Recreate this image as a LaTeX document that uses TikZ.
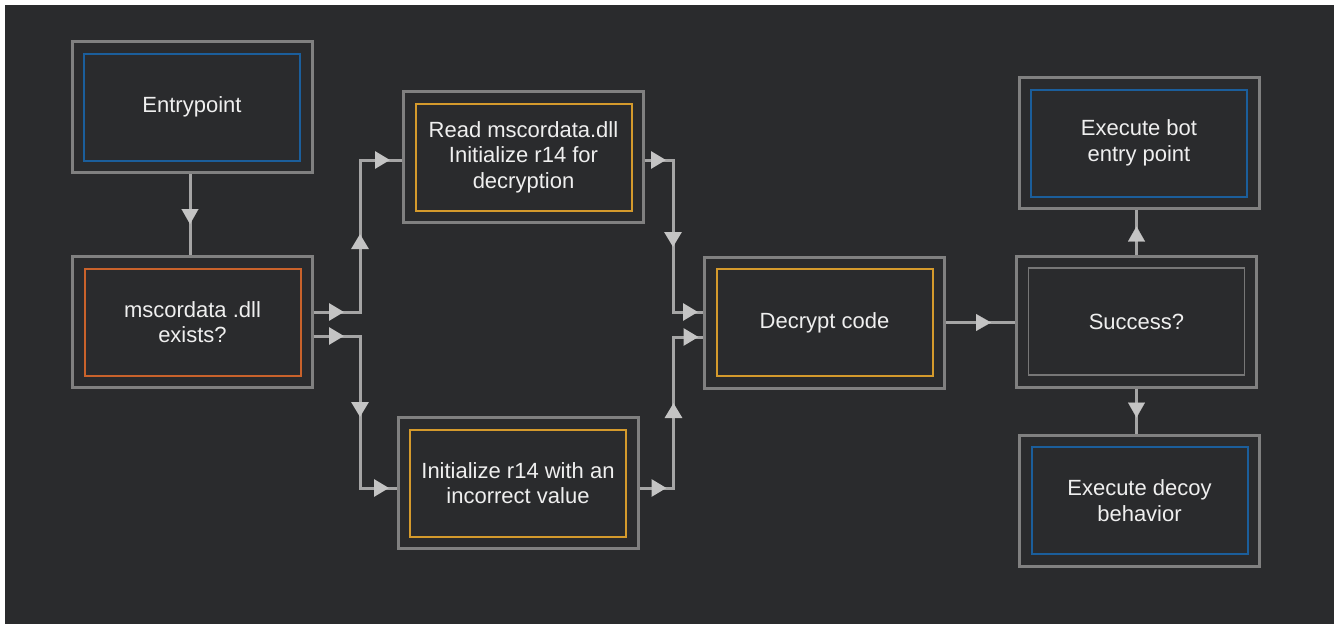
\documentclass[tikz,border=0pt]{standalone}
\usepackage{fontspec}
\setmainfont{Liberation Sans}
\usetikzlibrary{arrows.meta,decorations.markings}
\usetikzlibrary{positioning}

\definecolor{bg}{HTML}{2A2B2D}
\definecolor{boxgray}{HTML}{808080}
\definecolor{linegray}{HTML}{A5A5A5}
\definecolor{tipgray}{HTML}{C4C4C4}
\definecolor{txt}{HTML}{EFEFEF}
\definecolor{ciscoblue}{HTML}{1B5E9B}
\definecolor{rust}{HTML}{C9622B}
\definecolor{amber}{HTML}{D49A2C}
\definecolor{ringgray}{HTML}{777777}

\begin{document}
\begin{tikzpicture}[
	x=1pt, y=-1pt,
	> = {Triangle[length=15pt,width=17pt,fill=tipgray]},
	stage/.style = {draw=boxgray, line width=3pt, fill=bg, text=txt,
		minimum width=240pt, minimum height=131pt, align=center,
		font=\fontsize{22}{25.5}\selectfont,
		path picture={\draw[#1] ([shift={(12pt,-12pt)}]path picture bounding box.north west)
			rectangle ([shift={(-12pt,12pt)}]path picture bounding box.south east);}},
	stage/.default = {draw=ringgray,line width=1.5pt},
	conn/.style = {draw=linegray, line width=3pt, postaction=decorate},
	tips at/.style = {decoration={markings,mark=at position #1 with {\arrow[draw=tipgray,line width=0.1pt]{>}}}}
	]

	% canvas with white strip at top and left
	\useasboundingbox (0,0) rectangle (1334,624);
	\fill[white] (-10,-10) rectangle (1344,634);
	\fill[bg] (5,5) rectangle (1344,634);

	\node[stage={draw=ciscoblue,line width=2pt}] (entry) at (192,107) {Entrypoint};
	\node[stage={draw=rust,line width=2pt}] (msc) at (192.5,322) {mscordata .dll\\exists?};
	\node[stage={draw=amber,line width=2pt}] (read) at (523.5,157) {Read mscordata.dll\\Initialize r14 for\\decryption};
	\node[stage={draw=amber,line width=2pt}] (init) at (518,483) {Initialize r14 with an\\incorrect value};
	\node[stage={draw=amber,line width=2pt}] (dec) at (824.5,322.5) {Decrypt code};
	\node[stage] (succ) at (1136.5,321.5) {Success?};
	\node[stage={draw=ciscoblue,line width=2pt}] (bot) at (1139,143) {Execute bot\\entry point};
	\node[stage={draw=ciscoblue,line width=2pt}] (decoy) at (1139.5,500.5) {Execute decoy\\behavior};

	\draw[conn,tips at=50pt] ([xshift=-2pt]entry.south) -- ([xshift=-2pt]entry.south |- msc.north);

	\draw[conn,decoration={markings,
		mark=at position 30pt with {\arrow[draw=tipgray]{>}},
		mark=at position 124pt with {\arrow[draw=tipgray]{>}},
		mark=at position 228pt with {\arrow[draw=tipgray]{>}}}]
		([yshift=10pt]msc.east) -- ++(46,0) |- ([yshift=-3pt]read.west);
	\draw[conn,decoration={markings,
		mark=at position 30pt with {\arrow[draw=tipgray]{>}},
		mark=at position 127pt with {\arrow[draw=tipgray]{>}},
		mark=at position 227pt with {\arrow[draw=tipgray]{>}}}]
		([yshift=-14pt]msc.east) -- ++(46,0) |- ([yshift=-5pt]init.west);

	\draw[conn,decoration={markings,
		mark=at position 21pt with {\arrow[draw=tipgray]{>}},
		mark=at position 115pt with {\arrow[draw=tipgray]{>}},
		mark=at position 205pt with {\arrow[draw=tipgray]{>}}}]
		([yshift=-3pt]read.east) -- ++(28,0) |- ([yshift=10.5pt]dec.west);
	\draw[conn,decoration={markings,
		mark=at position 27pt with {\arrow[draw=tipgray]{>}},
		mark=at position 119pt with {\arrow[draw=tipgray]{>}},
		mark=at position 210pt with {\arrow[draw=tipgray]{>}}}]
		([yshift=-5pt]init.east) -- ++(34,0) |- ([yshift=-14.5pt]dec.west);

	\draw[conn,tips at=45pt] (dec.east) -- (succ.west |- dec.east);
	\draw[conn,tips at=28pt] (succ.north) -- (succ.north |- bot.south);
	\draw[conn,tips at=29pt] (succ.south) -- (succ.south |- decoy.north);

\end{tikzpicture}
\end{document}
